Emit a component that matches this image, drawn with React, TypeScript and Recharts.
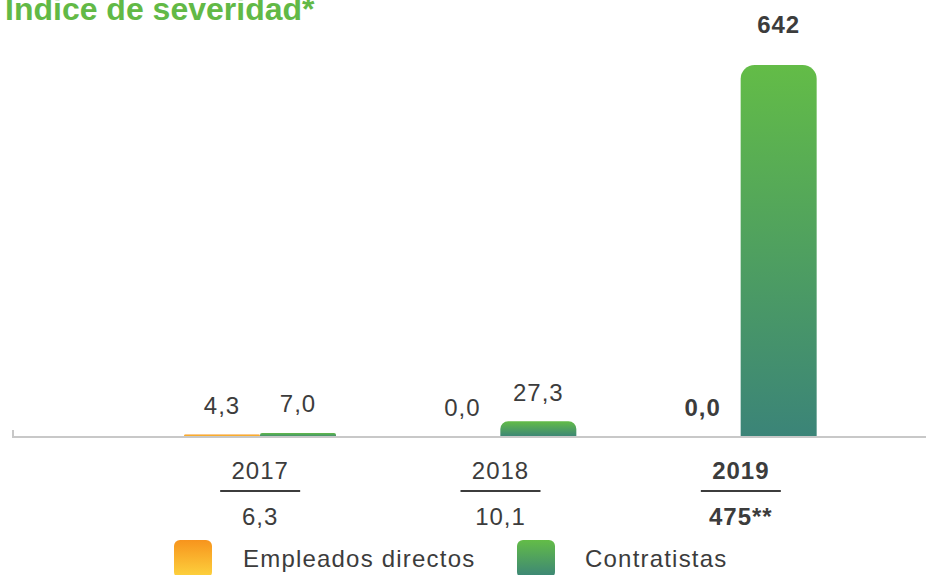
import { BarChart, Bar, XAxis, YAxis, LabelList } from 'recharts';

const years = ['2017', '2018', '2019'];
const totals = ['6,3', '10,1', '475**'];
const directos = [4.3, 0.0, 0.0];
const contratistas = [7.0, 27.3, 642];
const boldYear = '2019';

const data = years.map((year, i) => ({
  year,
  total: totals[i],
  directos: directos[i],
  contratistas: contratistas[i],
}));

const maxValue = Math.max(...contratistas, ...directos);
const textColor = '#3c3c3c';
const font = '"Liberation Sans", Arial, Helvetica, sans-serif';

const fmt = (v: number) => (v >= 100 ? v.toFixed(0) : v.toFixed(1).replace('.', ','));

const ValueLabel = (props: any) => {
  const { x, y, width, value, index } = props;
  const bold = years[index] === boldYear;
  const off = value === maxValue ? 41 : 29;
  return (
    <text
      x={x + width / 2}
      y={y - off}
      textAnchor="middle"
      dominantBaseline="central"
      fontSize={24}
      letterSpacing={1}
      fontFamily={font}
      fontWeight={bold ? 700 : 400}
      fill={textColor}
    >
      {fmt(value)}
    </text>
  );
};

const YearTick = (props: any) => {
  const { x, payload } = props;
  const i = payload.index;
  const bold = years[i] === boldYear;
  const base = 437;
  return (
    <g transform={`translate(${x},${base})`} fontFamily={font} fontSize={24} letterSpacing={1} fill={textColor} fontWeight={bold ? 700 : 400}>
      <text x={0} y={33} textAnchor="middle" dominantBaseline="central">
        {years[i]}
      </text>
      <line x1={-40} x2={40} y1={54} y2={54} stroke={textColor} strokeWidth={2} />
      <text x={0} y={79} textAnchor="middle" dominantBaseline="central">
        {totals[i]}
      </text>
    </g>
  );
};

// keep zero-value bars in the layout so their labels still show
const tinyForZero = (v: number) => (v === 0 ? 0.01 : 0);

const legendText = {
  position: 'absolute' as const,
  top: 559,
  transform: 'translateY(-50%)',
  fontFamily: font,
  fontSize: 24,
  letterSpacing: 1.2,
  color: textColor,
  lineHeight: '28px',
  whiteSpace: 'nowrap' as const,
};

export default function App() {
  return (
    <div style={{ position: 'absolute', left: 0, top: 0, width: 926, height: 575, overflow: 'hidden', background: '#fff' }}>
      <div
        style={{
          position: 'absolute',
          left: 5,
          top: -11,
          fontFamily: font,
          fontWeight: 700,
          fontSize: 32,
          color: '#62b946',
          lineHeight: '40px',
          whiteSpace: 'nowrap',
        }}
      >
        Indice de severidad*
      </div>
      <BarChart
        width={926}
        height={575}
        data={data}
        margin={{ top: 65, right: 0, bottom: 38, left: 12 }}
        barGap={0}
      >
        <defs>
          <linearGradient id="gradGreen" x1="0" y1="0" x2="0" y2="1">
            <stop offset="0%" stopColor="#63bc47" />
            <stop offset="100%" stopColor="#3b8478" />
          </linearGradient>
          <linearGradient id="gradOrange" x1="0" y1="0" x2="0" y2="1">
            <stop offset="0%" stopColor="#f7941d" />
            <stop offset="100%" stopColor="#fdd43f" />
          </linearGradient>
        </defs>
        <XAxis
          dataKey="year"
          height={100}
          padding={{ left: 128, right: 65 }}
          axisLine={{ stroke: '#c8c8c8', strokeWidth: 2 }}
          tickLine={false}
          tick={<YearTick />}
          interval={0}
        />
        <YAxis hide domain={[0, maxValue]} />
        <Bar
          dataKey="directos"
          barSize={76}
          fill="url(#gradOrange)"
          radius={[14, 14, 0, 0]}
          minPointSize={tinyForZero}
          isAnimationActive={false}
        >
          <LabelList dataKey="directos" content={<ValueLabel />} />
        </Bar>
        <Bar
          dataKey="contratistas"
          barSize={76}
          fill="url(#gradGreen)"
          radius={[14, 14, 0, 0]}
          minPointSize={tinyForZero}
          isAnimationActive={false}
        >
          <LabelList dataKey="contratistas" content={<ValueLabel />} />
        </Bar>
      </BarChart>
      <div style={{ position: 'absolute', left: 12, top: 430, width: 2, height: 8, background: '#c8c8c8' }} />
      <div style={{ position: 'absolute', left: 174, top: 540, width: 38, height: 38, borderRadius: 6, background: 'linear-gradient(#f7941d, #fdd43f)' }} />
      <div style={{ ...legendText, left: 243 }}>Empleados directos</div>
      <div style={{ position: 'absolute', left: 517, top: 540, width: 38, height: 38, borderRadius: 6, background: 'linear-gradient(#63bc47, #3b8478)' }} />
      <div style={{ ...legendText, left: 585 }}>Contratistas</div>
    </div>
  );
}
